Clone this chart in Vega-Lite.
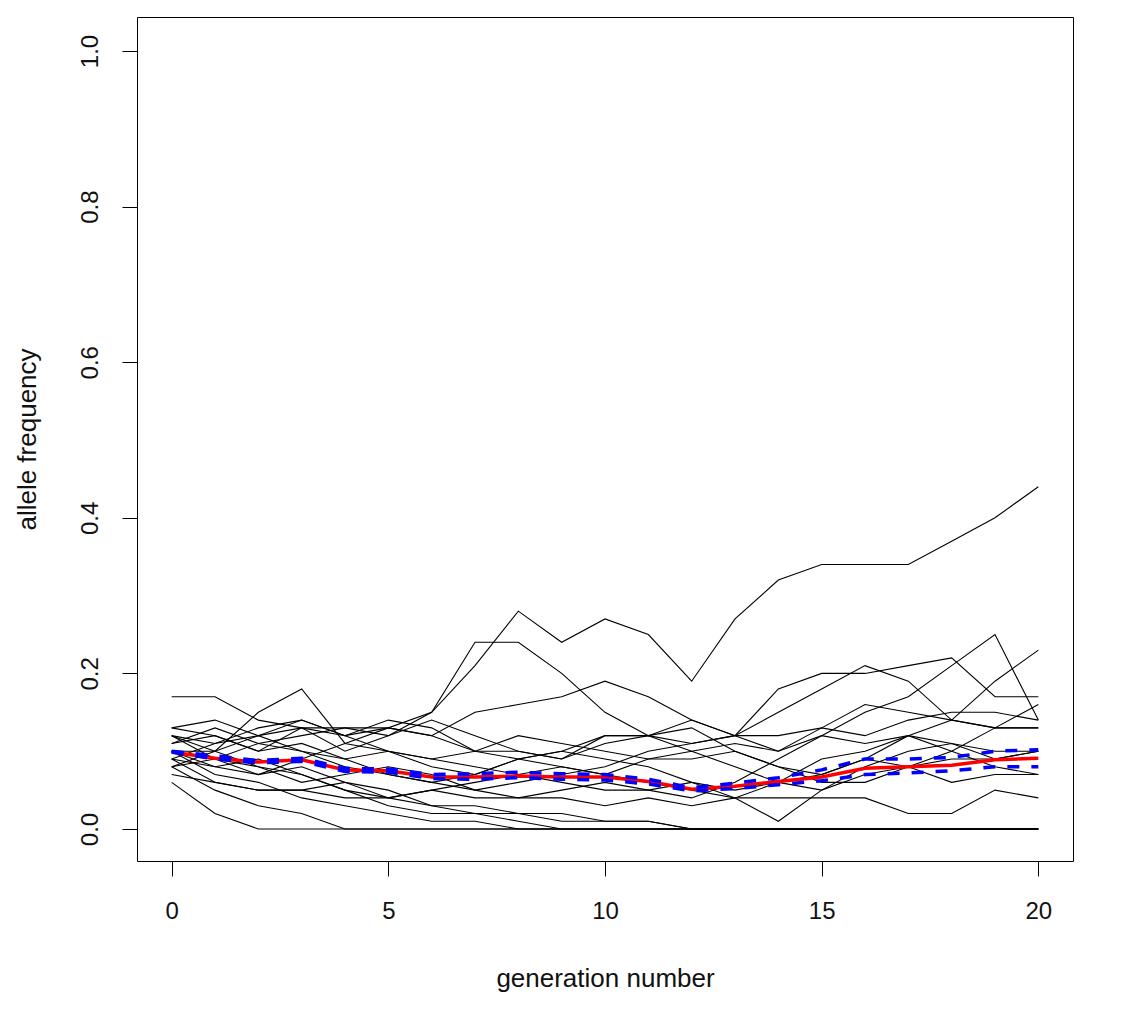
{
  "$schema": "https://vega.github.io/schema/vega-lite/v6.json",
  "width": 936,
  "height": 844,
  "autosize": {"type": "none"},
  "padding": {"left": 137, "top": 17, "right": 57, "bottom": 163},
  "background": "white",
  "config": {
    "view": {"stroke": "black", "strokeWidth": 1},
    "axis": {
      "domain": false,
      "grid": false,
      "tickColor": "black",
      "tickSize": 15,
      "tickWidth": 1,
      "labelFont": "Liberation Sans",
      "labelFontSize": 24,
      "labelColor": "#111",
      "titleFont": "Liberation Sans",
      "titleFontSize": 26,
      "titleFontWeight": "normal",
      "titleColor": "#111"
    }
  },
  "data": {
    "values": [
      {"gen": 0, "r1": 0.12, "r2": 0.09, "r3": 0.10, "r4": 0.17, "r5": 0.08, "r6": 0.13, "r7": 0.11, "r8": 0.10, "r9": 0.09, "r10": 0.07, "r11": 0.06, "r12": 0.08, "r13": 0.10, "r14": 0.12, "r15": 0.09, "r16": 0.13, "r17": 0.10, "r18": 0.11, "r19": 0.12, "r20": 0.08, "mean": 0.099, "bu": 0.100, "bl": 0.099},
      {"gen": 1, "r1": 0.11, "r2": 0.11, "r3": 0.09, "r4": 0.17, "r5": 0.10, "r6": 0.14, "r7": 0.12, "r8": 0.08, "r9": 0.06, "r10": 0.06, "r11": 0.02, "r12": 0.05, "r13": 0.07, "r14": 0.09, "r15": 0.08, "r16": 0.12, "r17": 0.10, "r18": 0.13, "r19": 0.10, "r20": 0.09, "mean": 0.091, "bu": 0.094, "bl": 0.090},
      {"gen": 2, "r1": 0.13, "r2": 0.12, "r3": 0.11, "r4": 0.14, "r5": 0.15, "r6": 0.12, "r7": 0.10, "r8": 0.07, "r9": 0.05, "r10": 0.05, "r11": 0.00, "r12": 0.03, "r13": 0.06, "r14": 0.08, "r15": 0.09, "r16": 0.10, "r17": 0.12, "r18": 0.11, "r19": 0.08, "r20": 0.07, "mean": 0.086, "bu": 0.088, "bl": 0.085},
      {"gen": 3, "r1": 0.14, "r2": 0.13, "r3": 0.12, "r4": 0.13, "r5": 0.18, "r6": 0.14, "r7": 0.13, "r8": 0.09, "r9": 0.05, "r10": 0.05, "r11": 0.00, "r12": 0.02, "r13": 0.04, "r14": 0.07, "r15": 0.07, "r16": 0.11, "r17": 0.10, "r18": 0.10, "r19": 0.06, "r20": 0.08, "mean": 0.089, "bu": 0.091, "bl": 0.087},
      {"gen": 4, "r1": 0.12, "r2": 0.10, "r3": 0.13, "r4": 0.12, "r5": 0.11, "r6": 0.12, "r7": 0.13, "r8": 0.11, "r9": 0.06, "r10": 0.04, "r11": 0.00, "r12": 0.00, "r13": 0.03, "r14": 0.05, "r15": 0.05, "r16": 0.09, "r17": 0.09, "r18": 0.08, "r19": 0.07, "r20": 0.06, "mean": 0.076, "bu": 0.078, "bl": 0.074},
      {"gen": 5, "r1": 0.13, "r2": 0.12, "r3": 0.13, "r4": 0.10, "r5": 0.10, "r6": 0.14, "r7": 0.12, "r8": 0.13, "r9": 0.04, "r10": 0.04, "r11": 0.00, "r12": 0.00, "r13": 0.02, "r14": 0.03, "r15": 0.04, "r16": 0.07, "r17": 0.10, "r18": 0.07, "r19": 0.08, "r20": 0.05, "mean": 0.075, "bu": 0.077, "bl": 0.073},
      {"gen": 6, "r1": 0.15, "r2": 0.15, "r3": 0.12, "r4": 0.09, "r5": 0.09, "r6": 0.13, "r7": 0.14, "r8": 0.12, "r9": 0.05, "r10": 0.05, "r11": 0.00, "r12": 0.00, "r13": 0.01, "r14": 0.02, "r15": 0.03, "r16": 0.06, "r17": 0.08, "r18": 0.06, "r19": 0.07, "r20": 0.03, "mean": 0.067, "bu": 0.070, "bl": 0.065},
      {"gen": 7, "r1": 0.21, "r2": 0.24, "r3": 0.15, "r4": 0.10, "r5": 0.08, "r6": 0.10, "r7": 0.12, "r8": 0.10, "r9": 0.06, "r10": 0.04, "r11": 0.00, "r12": 0.00, "r13": 0.01, "r14": 0.02, "r15": 0.02, "r16": 0.05, "r17": 0.07, "r18": 0.07, "r19": 0.05, "r20": 0.03, "mean": 0.067, "bu": 0.071, "bl": 0.064},
      {"gen": 8, "r1": 0.28, "r2": 0.24, "r3": 0.16, "r4": 0.09, "r5": 0.07, "r6": 0.10, "r7": 0.10, "r8": 0.12, "r9": 0.07, "r10": 0.04, "r11": 0.00, "r12": 0.00, "r13": 0.00, "r14": 0.01, "r15": 0.02, "r16": 0.06, "r17": 0.09, "r18": 0.09, "r19": 0.04, "r20": 0.02, "mean": 0.068, "bu": 0.073, "bl": 0.066},
      {"gen": 9, "r1": 0.24, "r2": 0.20, "r3": 0.17, "r4": 0.08, "r5": 0.06, "r6": 0.09, "r7": 0.09, "r8": 0.11, "r9": 0.08, "r10": 0.05, "r11": 0.00, "r12": 0.00, "r13": 0.00, "r14": 0.00, "r15": 0.01, "r16": 0.07, "r17": 0.10, "r18": 0.10, "r19": 0.04, "r20": 0.02, "mean": 0.067, "bu": 0.071, "bl": 0.064},
      {"gen": 10, "r1": 0.27, "r2": 0.15, "r3": 0.19, "r4": 0.07, "r5": 0.05, "r6": 0.11, "r7": 0.12, "r8": 0.10, "r9": 0.07, "r10": 0.06, "r11": 0.00, "r12": 0.00, "r13": 0.00, "r14": 0.00, "r15": 0.01, "r16": 0.08, "r17": 0.12, "r18": 0.09, "r19": 0.03, "r20": 0.01, "mean": 0.067, "bu": 0.070, "bl": 0.063},
      {"gen": 11, "r1": 0.25, "r2": 0.12, "r3": 0.17, "r4": 0.09, "r5": 0.05, "r6": 0.12, "r7": 0.12, "r8": 0.09, "r9": 0.06, "r10": 0.05, "r11": 0.00, "r12": 0.00, "r13": 0.00, "r14": 0.00, "r15": 0.01, "r16": 0.10, "r17": 0.12, "r18": 0.08, "r19": 0.04, "r20": 0.01, "mean": 0.061, "bu": 0.064, "bl": 0.058},
      {"gen": 12, "r1": 0.19, "r2": 0.10, "r3": 0.14, "r4": 0.10, "r5": 0.04, "r6": 0.11, "r7": 0.14, "r8": 0.09, "r9": 0.05, "r10": 0.06, "r11": 0.00, "r12": 0.00, "r13": 0.00, "r14": 0.00, "r15": 0.00, "r16": 0.11, "r17": 0.13, "r18": 0.06, "r19": 0.03, "r20": 0.00, "mean": 0.051, "bu": 0.053, "bl": 0.049},
      {"gen": 13, "r1": 0.27, "r2": 0.08, "r3": 0.12, "r4": 0.11, "r5": 0.06, "r6": 0.12, "r7": 0.12, "r8": 0.10, "r9": 0.04, "r10": 0.04, "r11": 0.00, "r12": 0.00, "r13": 0.00, "r14": 0.00, "r15": 0.00, "r16": 0.12, "r17": 0.10, "r18": 0.05, "r19": 0.04, "r20": 0.00, "mean": 0.055, "bu": 0.059, "bl": 0.052},
      {"gen": 14, "r1": 0.32, "r2": 0.06, "r3": 0.10, "r4": 0.10, "r5": 0.09, "r6": 0.18, "r7": 0.15, "r8": 0.08, "r9": 0.01, "r10": 0.04, "r11": 0.00, "r12": 0.00, "r13": 0.00, "r14": 0.00, "r15": 0.00, "r16": 0.12, "r17": 0.08, "r18": 0.06, "r19": 0.06, "r20": 0.00, "mean": 0.061, "bu": 0.066, "bl": 0.057},
      {"gen": 15, "r1": 0.34, "r2": 0.05, "r3": 0.13, "r4": 0.12, "r5": 0.12, "r6": 0.20, "r7": 0.18, "r8": 0.07, "r9": 0.05, "r10": 0.04, "r11": 0.00, "r12": 0.00, "r13": 0.00, "r14": 0.00, "r15": 0.00, "r16": 0.13, "r17": 0.06, "r18": 0.09, "r19": 0.07, "r20": 0.00, "mean": 0.067, "bu": 0.076, "bl": 0.062},
      {"gen": 16, "r1": 0.34, "r2": 0.07, "r3": 0.16, "r4": 0.11, "r5": 0.15, "r6": 0.20, "r7": 0.21, "r8": 0.09, "r9": 0.08, "r10": 0.04, "r11": 0.00, "r12": 0.00, "r13": 0.00, "r14": 0.00, "r15": 0.00, "r16": 0.12, "r17": 0.06, "r18": 0.10, "r19": 0.09, "r20": 0.00, "mean": 0.078, "bu": 0.090, "bl": 0.070},
      {"gen": 17, "r1": 0.34, "r2": 0.08, "r3": 0.15, "r4": 0.12, "r5": 0.17, "r6": 0.21, "r7": 0.19, "r8": 0.08, "r9": 0.10, "r10": 0.02, "r11": 0.00, "r12": 0.00, "r13": 0.00, "r14": 0.00, "r15": 0.00, "r16": 0.14, "r17": 0.08, "r18": 0.12, "r19": 0.12, "r20": 0.00, "mean": 0.080, "bu": 0.090, "bl": 0.072},
      {"gen": 18, "r1": 0.37, "r2": 0.06, "r3": 0.14, "r4": 0.14, "r5": 0.21, "r6": 0.22, "r7": 0.14, "r8": 0.10, "r9": 0.11, "r10": 0.02, "r11": 0.00, "r12": 0.00, "r13": 0.00, "r14": 0.00, "r15": 0.00, "r16": 0.15, "r17": 0.09, "r18": 0.10, "r19": 0.11, "r20": 0.00, "mean": 0.082, "bu": 0.092, "bl": 0.075},
      {"gen": 19, "r1": 0.40, "r2": 0.07, "r3": 0.13, "r4": 0.19, "r5": 0.25, "r6": 0.17, "r7": 0.13, "r8": 0.13, "r9": 0.10, "r10": 0.05, "r11": 0.00, "r12": 0.00, "r13": 0.00, "r14": 0.00, "r15": 0.00, "r16": 0.15, "r17": 0.09, "r18": 0.08, "r19": 0.09, "r20": 0.00, "mean": 0.089, "bu": 0.100, "bl": 0.080},
      {"gen": 20, "r1": 0.44, "r2": 0.07, "r3": 0.13, "r4": 0.23, "r5": 0.14, "r6": 0.17, "r7": 0.13, "r8": 0.16, "r9": 0.10, "r10": 0.04, "r11": 0.00, "r12": 0.00, "r13": 0.00, "r14": 0.00, "r15": 0.00, "r16": 0.14, "r17": 0.10, "r18": 0.07, "r19": 0.10, "r20": 0.00, "mean": 0.091, "bu": 0.102, "bl": 0.080}
    ]
  },
  "encoding": {
    "x": {
      "field": "gen", "type": "quantitative",
      "scale": {"domain": [-0.8, 20.8], "nice": false, "zero": false},
      "axis": {"values": [0, 5, 10, 15, 20], "title": "generation number", "labelPadding": 23, "titlePadding": 42, "labelFlush": false}
    }
  },
  "layer": [
    {
      "transform": [{"fold": ["r1","r2","r3","r4","r5","r6","r7","r8","r9","r10","r11","r12","r13","r14","r15","r16","r17","r18","r19","r20"], "as": ["rep", "p"]}],
      "mark": {"type": "line", "color": "black", "strokeWidth": 1.1},
      "encoding": {
        "y": {
          "field": "p", "type": "quantitative",
          "scale": {"domain": [-0.0411, 1.0437], "nice": false, "zero": false},
          "axis": {"values": [0, 0.2, 0.4, 0.6, 0.8, 1.0], "format": ".1f", "title": "allele frequency", "labelAngle": 270, "labelAlign": "center", "labelBaseline": "bottom", "labelPadding": 20, "titlePadding": 38, "labelFlush": false}
        },
        "detail": {"field": "rep"}
      }
    },
    {
      "mark": {"type": "line", "color": "#ff0000", "strokeWidth": 3.5},
      "encoding": {"y": {"field": "mean", "type": "quantitative"}}
    },
    {
      "transform": [{"fold": ["bu", "bl"], "as": ["band", "q"]}],
      "mark": {"type": "line", "color": "#0000ff", "strokeWidth": 3.5, "strokeDash": [12, 12]},
      "encoding": {"y": {"field": "q", "type": "quantitative"}, "detail": {"field": "band"}}
    }
  ]
}
